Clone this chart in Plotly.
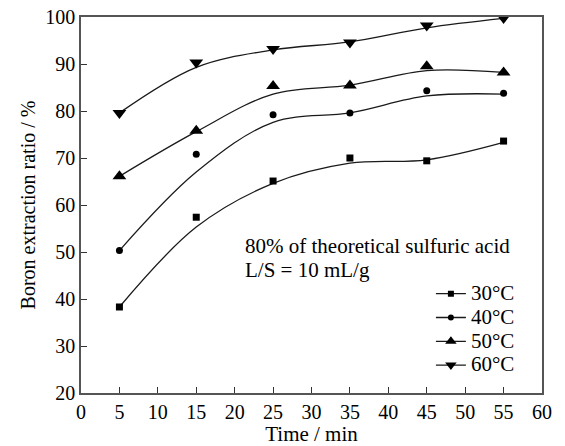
import plotly.graph_objects as go

# Sampling times (min)
times = [5, 15, 25, 35, 45, 55]

# Measured boron extraction ratio (%) at each temperature
temps = ["30°C", "40°C", "50°C", "60°C"]
ratio_30 = [38.3, 57.4, 65.1, 70.0, 69.4, 73.6]
ratio_40 = [50.3, 70.8, 79.2, 79.6, 84.3, 83.8]
ratio_50 = [66.1, 75.8, 85.3, 85.4, 89.5, 88.2]
ratio_60 = [79.6, 90.3, 93.2, 94.6, 98.2, 99.8]

# Smoothed trend curves for each temperature, evaluated at the same times
trend_30 = [38.3, 55.3, 64.6, 68.9, 69.6, 73.3]
trend_40 = [50.3, 67.0, 77.6, 79.6, 83.2, 83.6]
trend_50 = [66.1, 75.6, 83.6, 85.5, 88.6, 88.2]
trend_60 = [79.6, 89.3, 93.0, 94.7, 97.7, 99.7]

measured = [ratio_30, ratio_40, ratio_50, ratio_60]
trends = [trend_30, trend_40, trend_50, trend_60]
symbols = ["square", "circle", "triangle-up", "triangle-down"]
sizes = [7, 7, 12, 12]
legend_sizes = [6, 6, 10, 10]

FONT = "Liberation Serif"
fig = go.Figure()

for name, ys, tr, sym, sz, lsz in zip(temps, measured, trends, symbols, sizes, legend_sizes):
    fig.add_trace(go.Scatter(
        x=times, y=tr, mode="lines", showlegend=False,
        line=dict(color="#1a1a1a", width=1.3, shape="spline", smoothing=1.0),
        hoverinfo="skip",
    ))
    fig.add_trace(go.Scatter(
        x=times, y=ys, mode="markers", showlegend=False, name=name,
        marker=dict(symbol=sym, size=sz, color="black"),
    ))
    # legend entry: line through marker
    fig.add_trace(go.Scatter(
        x=[None], y=[None], mode="lines+markers",
        name=f'<span style="font-size:21px">{name}</span>',
        line=dict(color="#1a1a1a", width=1.3),
        marker=dict(symbol=sym, size=lsz, color="black"),
    ))

note_font = dict(family=FONT, size=21, color="black")
fig.add_annotation(
    x=0.351, y=0.392, xref="paper", yref="paper", xanchor="left", yanchor="middle",
    text="80% of theoretical sulfuric acid", showarrow=False, font=note_font,
)
fig.add_annotation(
    x=0.351, y=0.327, xref="paper", yref="paper", xanchor="left", yanchor="middle",
    text="L/S = 10 mL/g", showarrow=False, font=note_font,
)

axis_common = dict(
    showgrid=False, zeroline=False, automargin=False,
    showline=True, linecolor="#555555", linewidth=1.5, mirror=True,
    ticks="inside", ticklen=6, tickwidth=1.2, tickcolor="#333333",
    tickfont=dict(family=FONT, size=20, color="black"),
)

fig.update_xaxes(
    range=[0, 60], tick0=0, dtick=5,
    title=dict(text="Time / min", font=dict(family=FONT, size=21, color="black"), standoff=0),
    **axis_common,
)
fig.update_yaxes(
    range=[20, 100], tick0=20, dtick=10,
    title=dict(text="Boron extraction ratio / %", font=dict(family=FONT, size=20, color="black"), standoff=4),
    **axis_common,
)

fig.update_layout(
    width=565, height=446,
    margin=dict(l=81, r=23, t=17, b=53),
    paper_bgcolor="white", plot_bgcolor="white",
    font=dict(family=FONT, size=20, color="black"),
    legend=dict(
        x=0.759, y=0.309, xanchor="left", yanchor="top",
        bgcolor="rgba(0,0,0,0)", borderwidth=0,
        font=dict(family=FONT, size=16, color="black"),
        itemwidth=30, tracegroupgap=0,
    ),
)

fig.write_html("out.html")
